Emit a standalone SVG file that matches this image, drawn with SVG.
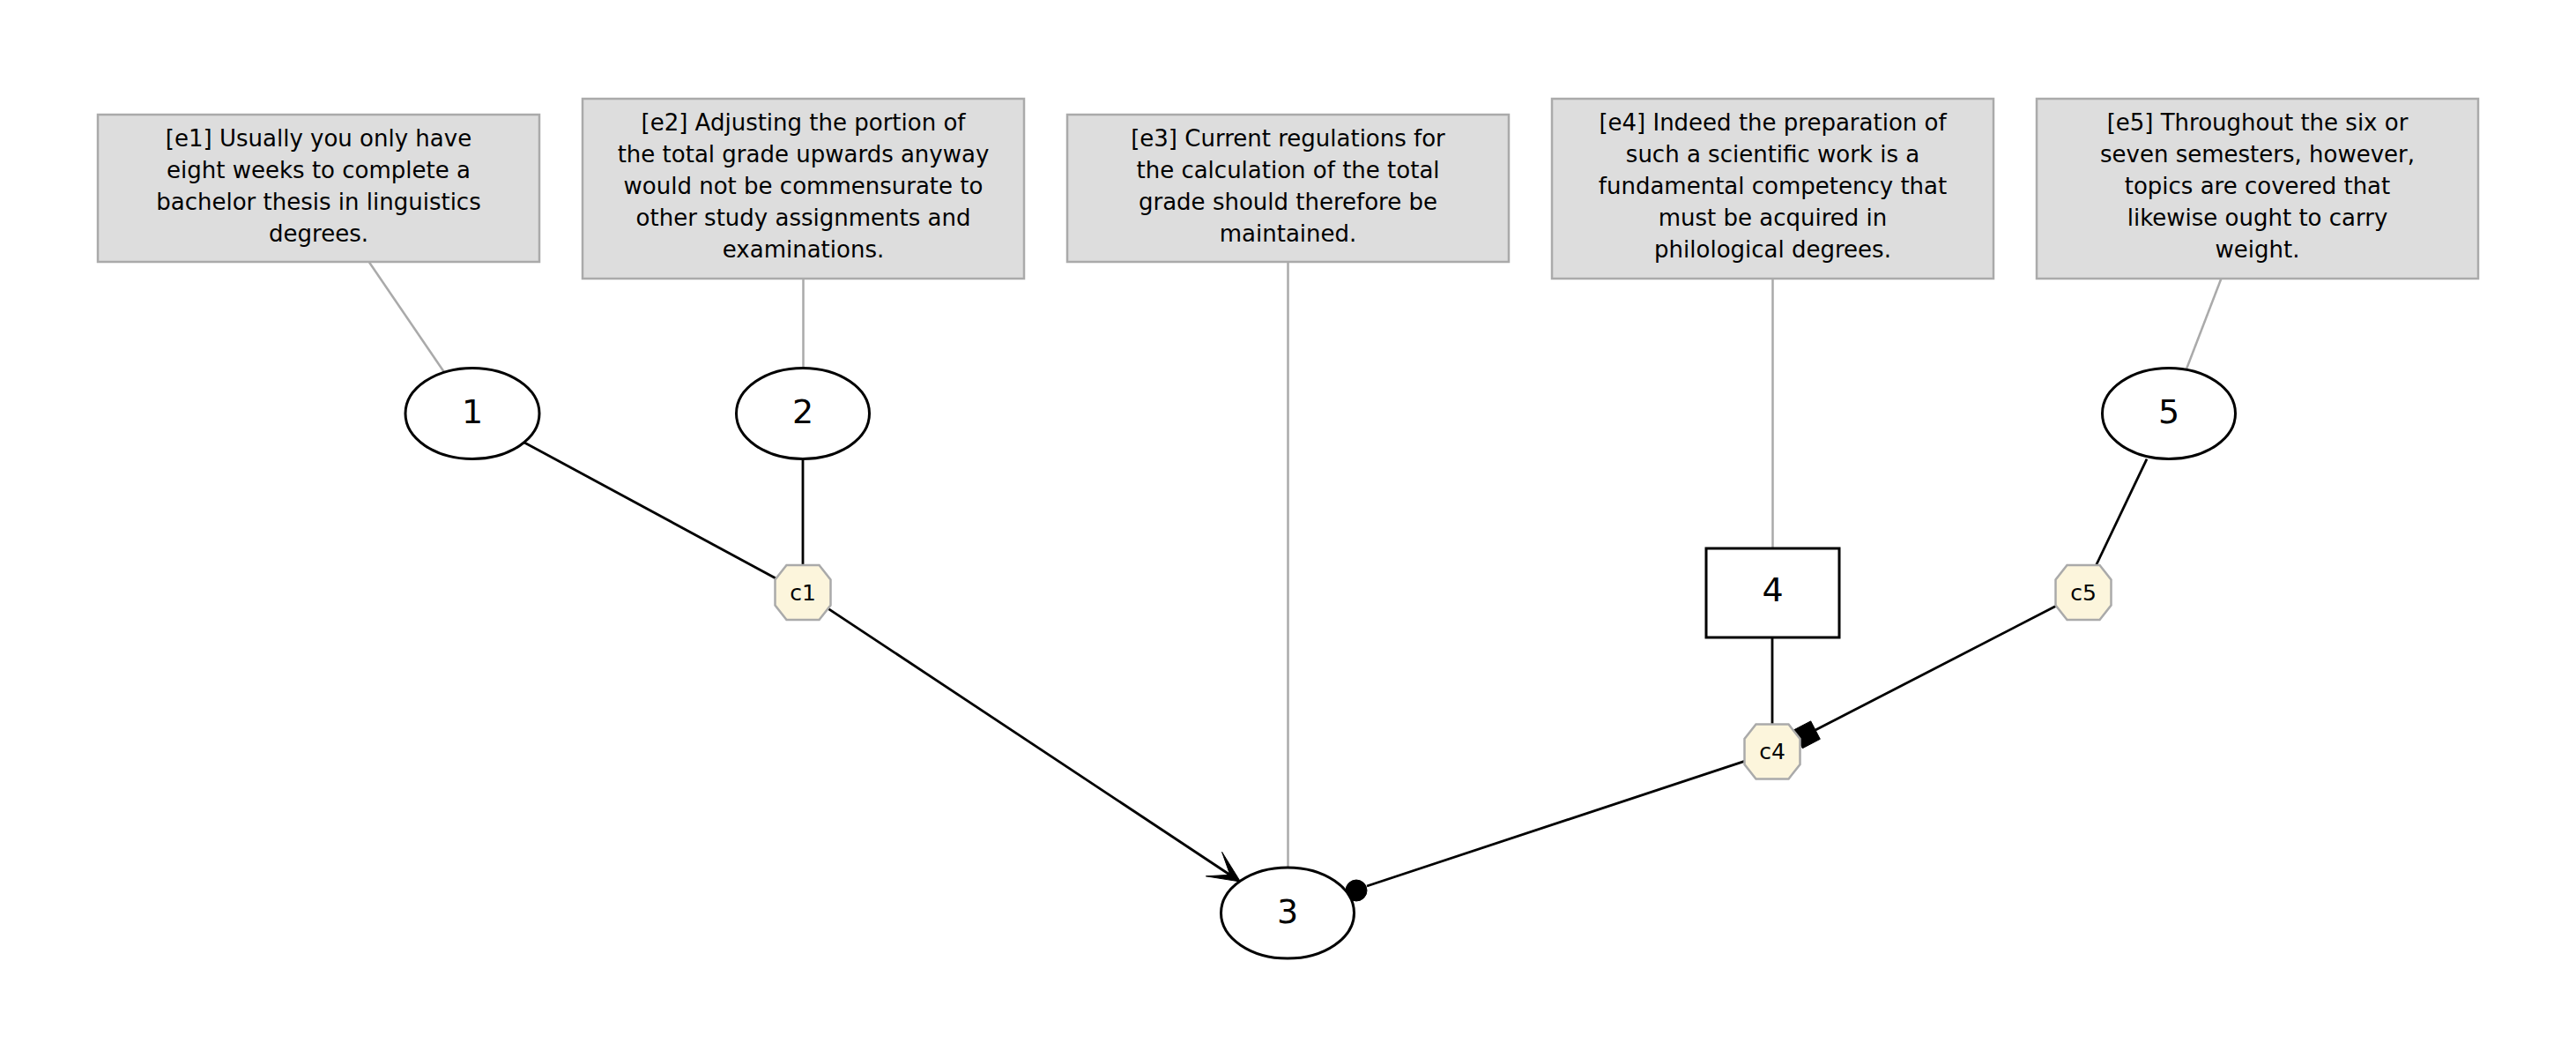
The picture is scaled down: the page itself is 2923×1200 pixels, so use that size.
<svg xmlns="http://www.w3.org/2000/svg" width="2923" height="1200" viewBox="0 0 2923 1200">
<style>
  .note rect { fill: #dddddd; stroke: #aaaaaa; stroke-width: 2.5; }
  .note text { font-family: "DejaVu Sans", sans-serif; font-size: 26px; fill: #000; text-anchor: middle; }
  .node ellipse, .node rect { fill: #ffffff; stroke: #000000; stroke-width: 3; }
  .node text { font-family: "DejaVu Sans", sans-serif; font-size: 38px; fill: #000; text-anchor: middle; }
  .conj polygon { fill: #fcf5dc; stroke: #aaaaaa; stroke-width: 2.5; }
  .conj text { font-family: "DejaVu Sans", sans-serif; font-size: 25px; fill: #000; text-anchor: middle; }
  .gray { stroke: #aaaaaa; stroke-width: 2.5; fill: none; }
  .edge { stroke: #000000; stroke-width: 2.8; fill: none; }
  .head { fill: #000000; stroke: #000000; stroke-width: 1; }
</style>
<rect x="0" y="0" width="2923" height="1200" fill="#ffffff"/>

<g id="connectors">
  <line class="gray" x1="419" y1="297.5" x2="503.6" y2="421.5"/>
  <line class="gray" x1="911.5" y1="316" x2="911.5" y2="418"/>
  <line class="gray" x1="1461.5" y1="297.5" x2="1461.5" y2="984.5"/>
  <line class="gray" x1="2011.5" y1="316" x2="2011.5" y2="622"/>
  <line class="gray" x1="2520.4" y1="316" x2="2481" y2="418.5"/>

  <line class="edge" x1="594.6" y1="501.7" x2="881.7" y2="656.7"/>
  <line class="edge" x1="911" y1="520" x2="911" y2="641"/>
  <line class="edge" x1="938.3" y1="689.3" x2="1396" y2="992.5"/>
  <polygon class="head" points="1407.5,1000 1386.6,966.4 1395.8,992.3 1368.4,993.8"/>
  <line class="edge" x1="2011" y1="723" x2="2011" y2="821.5"/>
  <line class="edge" x1="1979.5" y1="863.3" x2="1551" y2="1005"/>
  <circle class="head" cx="1539" cy="1010" r="12"/>
  <line class="edge" x1="2436" y1="520.7" x2="2378.3" y2="641.5"/>
  <line class="edge" x1="2334.5" y1="686.5" x2="2060" y2="828.1"/>
  <polygon class="head" points="2034.7,828.3 2054.7,817.9 2065.3,838.3 2045.3,848.7"/>
</g>

<g id="e1" class="note">
  <rect x="111" y="130" width="501" height="167"/>
  <text x="361.5" y="166"><tspan x="361.5">[e1] Usually you only have</tspan><tspan x="361.5" dy="36">eight weeks to complete a</tspan><tspan x="361.5" dy="36">bachelor thesis in linguistics</tspan><tspan x="361.5" dy="36">degrees.</tspan></text>
</g>
<g id="e2" class="note">
  <rect x="661" y="112" width="501" height="204"/>
  <text x="911.5" y="148"><tspan x="911.5">[e2] Adjusting the portion of</tspan><tspan x="911.5" dy="36">the total grade upwards anyway</tspan><tspan x="911.5" dy="36">would not be commensurate to</tspan><tspan x="911.5" dy="36">other study assignments and</tspan><tspan x="911.5" dy="36">examinations.</tspan></text>
</g>
<g id="e3" class="note">
  <rect x="1211" y="130" width="501" height="167"/>
  <text x="1461.5" y="166"><tspan x="1461.5">[e3] Current regulations for</tspan><tspan x="1461.5" dy="36">the calculation of the total</tspan><tspan x="1461.5" dy="36">grade should therefore be</tspan><tspan x="1461.5" dy="36">maintained.</tspan></text>
</g>
<g id="e4" class="note">
  <rect x="1761" y="112" width="501" height="204"/>
  <text x="2011.5" y="148"><tspan x="2011.5">[e4] Indeed the preparation of</tspan><tspan x="2011.5" dy="36">such a scientific work is a</tspan><tspan x="2011.5" dy="36">fundamental competency that</tspan><tspan x="2011.5" dy="36">must be acquired in</tspan><tspan x="2011.5" dy="36">philological degrees.</tspan></text>
</g>
<g id="e5" class="note">
  <rect x="2311" y="112" width="501" height="204"/>
  <text x="2561.5" y="148"><tspan x="2561.5">[e5] Throughout the six or</tspan><tspan x="2561.5" dy="36">seven semesters, however,</tspan><tspan x="2561.5" dy="36">topics are covered that</tspan><tspan x="2561.5" dy="36">likewise ought to carry</tspan><tspan x="2561.5" dy="36">weight.</tspan></text>
</g>

<g id="n1" class="node">
  <ellipse cx="536" cy="469" rx="76" ry="51.5"/>
  <text x="536" y="479.5">1</text>
</g>
<g id="n2" class="node">
  <ellipse cx="911" cy="469" rx="75.5" ry="51.5"/>
  <text x="911" y="479.5">2</text>
</g>
<g id="n3" class="node">
  <ellipse cx="1461" cy="1035.5" rx="75.5" ry="51.5"/>
  <text x="1461" y="1046.5">3</text>
</g>
<g id="n4" class="node">
  <rect x="1936" y="622" width="151" height="101"/>
  <text x="2011.5" y="682">4</text>
</g>
<g id="n5" class="node">
  <ellipse cx="2461" cy="469" rx="75.5" ry="51.5"/>
  <text x="2461" y="479.5">5</text>
</g>

<g id="c1" class="conj">
  <polygon points="892.5,641 929.5,641 942.5,657.5 942.5,686.5 929.5,703 892.5,703 879.5,686.5 879.5,657.5"/>
  <text x="911" y="680.5">c1</text>
</g>
<g id="c4" class="conj">
  <polygon points="1992.5,821.5 2029.5,821.5 2042.5,838 2042.5,867 2029.5,883.5 1992.5,883.5 1979.5,867 1979.5,838"/>
  <text x="2011" y="861">c4</text>
</g>
<g id="c5" class="conj">
  <polygon points="2345.5,641 2382.5,641 2395.5,657.5 2395.5,686.5 2382.5,703 2345.5,703 2332.5,686.5 2332.5,657.5"/>
  <text x="2364" y="680.5">c5</text>
</g>
</svg>
